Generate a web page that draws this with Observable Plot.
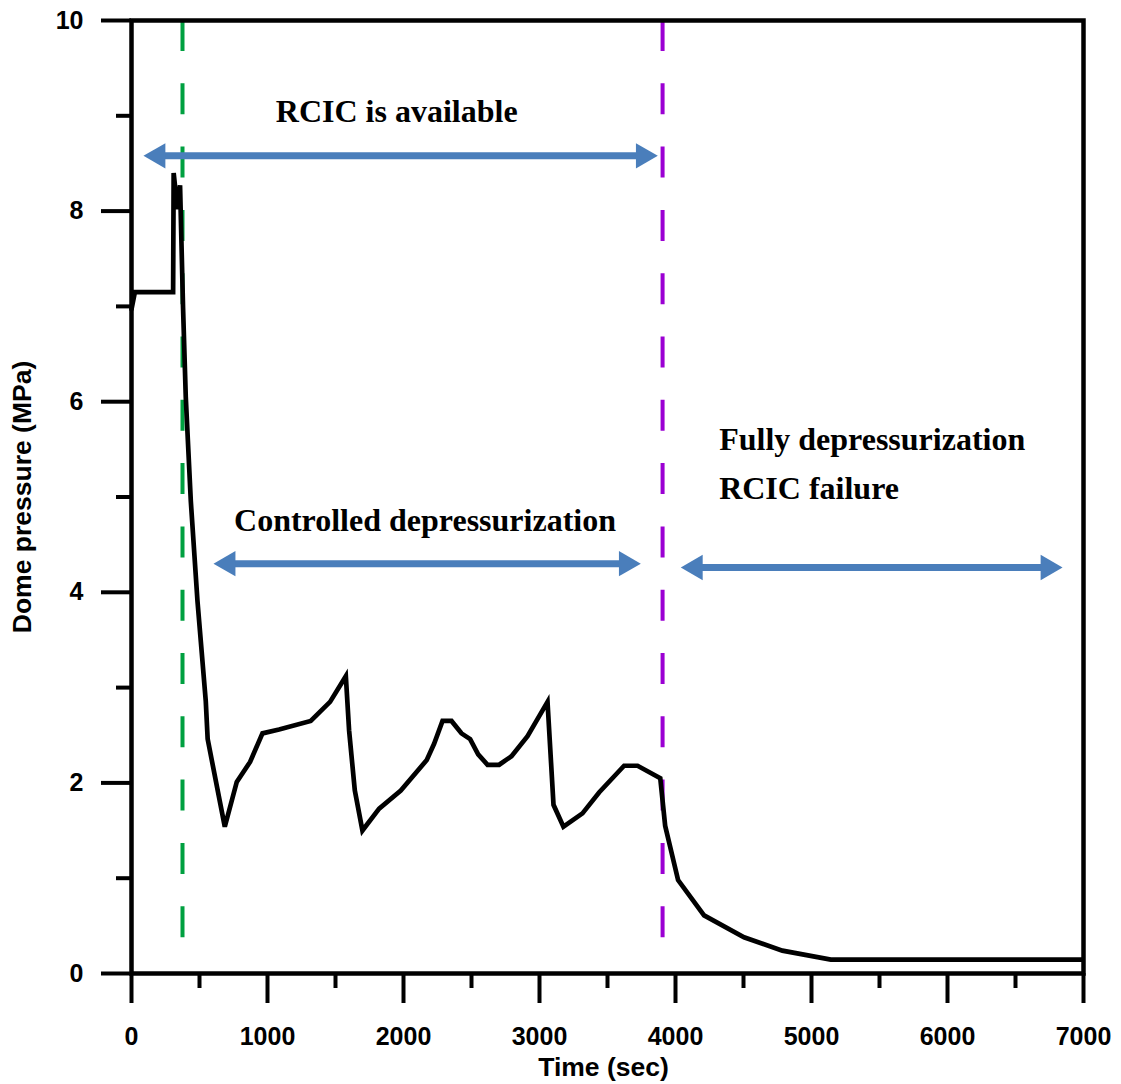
<!DOCTYPE html>
<html>
<head>
<meta charset="utf-8">
<script src="https://cdn.jsdelivr.net/npm/d3@7"></script>
<script src="https://cdn.jsdelivr.net/npm/@observablehq/plot@0.6"></script>
<style>
  html, body { margin: 0; padding: 0; background: #fff; }
</style>
</head>
<body>
<div id="chart"></div>
<script>
// Dome pressure history (time in s, pressure in MPa)
const timeSec = [0, 25, 306, 310, 338, 357, 379, 399, 436, 485, 546, 560, 686, 774, 872, 963, 1085, 1318, 1460, 1576, 1600, 1642, 1698, 1821, 1980, 2171, 2225, 2287, 2353, 2426, 2490, 2549, 2618, 2703, 2794, 2912, 3059, 3103, 3176, 3316, 3438, 3622, 3721, 3888, 3924, 4019, 4210, 4504, 4786, 5142, 6990];
const domePressure = [6.97, 7.15, 7.15, 8.40, 8.02, 8.27, 6.99, 6.05, 4.96, 3.91, 2.86, 2.46, 1.54, 2.01, 2.22, 2.52, 2.56, 2.65, 2.85, 3.12, 2.55, 1.92, 1.50, 1.73, 1.92, 2.24, 2.41, 2.65, 2.65, 2.52, 2.46, 2.30, 2.19, 2.19, 2.28, 2.49, 2.85, 1.77, 1.54, 1.68, 1.90, 2.18, 2.18, 2.05, 1.55, 0.98, 0.61, 0.38, 0.24, 0.145, 0.145];

// Axis ticks
const xMajorTicks = [0, 1000, 2000, 3000, 4000, 5000, 6000, 7000];
const xMinorTicks = [500, 1500, 2500, 3500, 4500, 5500, 6500];
const yMajorTicks = [0, 2, 4, 6, 8, 10];
const yMinorTicks = [1, 3, 5, 7, 9];

// Phase boundaries (s): RCIC start, RCIC failure
const rcicStartTime = 375;
const rcicFailureTime = 3905;

// Double-headed span arrows: start time, end time, pressure level
const spanStart = [88, 603, 4039];
const spanEnd = [3870, 3745, 6846];
const spanLevel = [8.58, 4.30, 4.26];

// Phase notes: text, start time, baseline pressure
const noteText = ["RCIC is available", "Controlled depressurization", "Fully depressurization", "RCIC failure"];
const noteTime = [1061, 754, 4321, 4321];
const notePressure = [8.93, 4.64, 5.495, 4.98];

const curve = timeSec.map((t, i) => ({t, p: domePressure[i]}));
const spans = spanStart.map((a, i) => ({a, b: spanEnd[i], y: spanLevel[i]}));
const notes = noteText.map((text, i) => ({text, t: noteTime[i], p: notePressure[i]}));

const blue = "#4a7ebb";
const sans = "'Liberation Sans', Arial, sans-serif";
const serif = "'Liberation Serif', 'Times New Roman', serif";

const chart = Plot.plot({
  width: 1121,
  height: 1084,
  marginLeft: 131,
  marginRight: 38,
  marginTop: 20,
  marginBottom: 111,
  x: {domain: [0, 7000]},
  y: {domain: [0, 10]},
  style: {fontFamily: sans, fontSize: "25px", fontWeight: "bold", color: "black", background: "white", overflow: "visible"},
  marks: [
    // phase boundaries
    Plot.ruleX([rcicStartTime], {stroke: "#00a040", strokeWidth: 4, strokeDasharray: "31,32.3", insetBottom: 33}),
    Plot.ruleX([rcicFailureTime], {stroke: "#9b00d3", strokeWidth: 4, strokeDasharray: "31,32.3", insetBottom: 33}),
    // pressure curve
    Plot.line(curve, {x: "t", y: "p", stroke: "black", strokeWidth: 4.7, strokeLinejoin: "miter", strokeMiterlimit: 4}),
    // span arrows
    Plot.ruleY(spans, {x1: "a", x2: "b", y: "y", stroke: blue, strokeWidth: 7, insetLeft: 16, insetRight: 16}),
    Plot.dot(spans, {x: "b", y: "y", symbol: "triangle", r: 9.4, rotate: 90, dx: -14.6, fill: blue, stroke: null}),
    Plot.dot(spans, {x: "a", y: "y", symbol: "triangle", r: 9.4, rotate: -90, dx: 14.6, fill: blue, stroke: null}),
    // phase notes
    Plot.text(notes, {x: "t", y: "p", text: "text", textAnchor: "start", lineAnchor: "bottom", fontFamily: serif, fontSize: 32, fontWeight: "bold", fill: "black"}),
    // axes
    Plot.frame({stroke: "black", strokeWidth: 4.5}),
    Plot.axisX(xMajorTicks, {tickSize: 30, tickPadding: 24, strokeWidth: 4, label: null, fontSize: 25, tickFormat: d => String(d)}),
    Plot.axisX(xMinorTicks, {tickSize: 15, strokeWidth: 4, label: null, tickFormat: () => ""}),
    Plot.axisY(yMajorTicks, {tickSize: 30, tickPadding: 18, strokeWidth: 4, label: null, fontSize: 25, tickFormat: d => String(d)}),
    Plot.axisY(yMinorTicks, {tickSize: 15, strokeWidth: 4, label: null, tickFormat: () => ""}),
    // axis titles
    Plot.text(["Time (sec)"], {text: d => d, frameAnchor: "bottom", dx: -4, dy: 102, textAnchor: "middle", lineAnchor: "bottom", fontSize: 26.5, fontWeight: "bold"}),
    Plot.text(["Dome pressure (MPa)"], {text: d => d, frameAnchor: "left", dx: -109, rotate: -90, textAnchor: "middle", lineAnchor: "middle", fontSize: 26.5, fontWeight: "bold"})
  ]
});

document.getElementById("chart").appendChild(chart);
</script>
</body>
</html>
